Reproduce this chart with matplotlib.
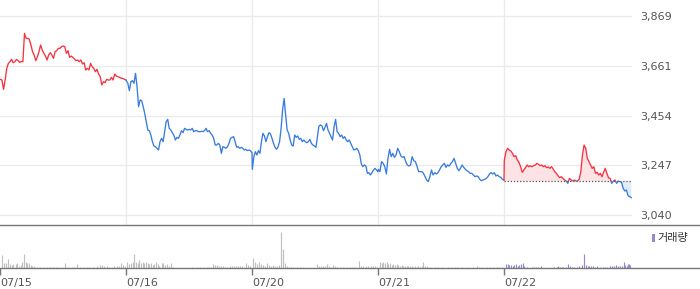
import numpy as np
import matplotlib
matplotlib.use("Agg")
import matplotlib.pyplot as plt
from matplotlib.patches import Rectangle
from matplotlib.lines import Line2D

# ---------------- data ----------------
dates = ["07/15", "07/16", "07/20", "07/21", "07/22"]
y_ticks = [3040, 3247, 3454, 3661, 3869]
prev_close = 3181

price_d1 = [3605.1, 3602.3, 3563.5, 3602.3, 3650.9, 3671.8, 3678.7, 3688.4, 3674.5, 3678.7,
            3688.4, 3682.9, 3675.9, 3678.7, 3678.7, 3796.8, 3775.9, 3775.9, 3771.8, 3748.2,
            3720.4, 3706.5, 3682.9, 3699.5, 3720.4, 3748.2, 3727.3, 3713.4, 3702.3, 3685.7,
            3706.5, 3716.2, 3706.5, 3692.6, 3720.4, 3724.5, 3734.3, 3734.3, 3741.2, 3744.0,
            3741.2, 3713.4, 3724.5, 3696.8, 3702.3, 3696.8, 3689.8, 3682.9, 3685.7, 3678.7,
            3685.7, 3669.0, 3674.5, 3644.0, 3650.9, 3644.0, 3671.8, 3657.9, 3650.9, 3637.0,
            3646.8, 3627.3, 3616.2, 3581.5, 3595.4, 3591.2, 3605.1, 3602.3, 3602.3, 3613.4,
            3602.3, 3627.3, 3619.0, 3616.2, 3613.4, 3609.3, 3609.3, 3605.1, 3602.3]
price_d2 = [3599.6, 3588.5, 3557.9, 3595.4, 3599.6, 3588.5, 3630.1, 3574.6, 3491.3, 3519.1,
            3516.3, 3491.3, 3463.5, 3428.8, 3394.1, 3391.3, 3373.2, 3345.5, 3327.4, 3324.6,
            3317.7, 3310.7, 3345.5, 3359.4, 3345.5, 3387.1, 3428.8, 3438.5, 3401.0, 3394.1,
            3383.0, 3373.2, 3352.4, 3363.5, 3359.4, 3373.2, 3391.3, 3383.0, 3401.0, 3396.9,
            3394.1, 3396.9, 3394.1, 3401.0, 3387.1, 3391.3, 3391.3, 3387.1, 3387.1, 3388.5,
            3387.1, 3391.3, 3401.0, 3387.1, 3391.3, 3380.2, 3373.2, 3359.4, 3331.6, 3331.6,
            3338.5, 3331.6, 3296.9, 3324.6, 3321.9, 3317.7, 3324.6, 3338.5, 3359.4, 3363.5,
            3366.3, 3345.5, 3321.9, 3324.6, 3317.7, 3321.9, 3317.7, 3310.7, 3313.5, 3308.0,
            3310.7, 3308.0, 3299.6]
price_d3 = [3230.2, 3283.0, 3303.8, 3289.9, 3308.0, 3296.9, 3345.4, 3380.2, 3369.1, 3345.4,
            3366.3, 3382.9, 3377.4, 3359.3, 3338.5, 3321.8, 3313.5, 3324.6, 3345.4, 3401.0,
            3477.4, 3526.0, 3456.6, 3394.1, 3380.2, 3352.4, 3331.6, 3327.4, 3373.2, 3363.5,
            3369.1, 3355.2, 3359.3, 3345.4, 3352.4, 3345.4, 3341.3, 3345.4, 3355.2, 3338.5,
            3331.6, 3327.4, 3321.8, 3366.3, 3410.7, 3414.9, 3410.7, 3391.3, 3405.2, 3421.8,
            3394.1, 3380.2, 3366.3, 3352.4, 3408.0, 3438.5, 3387.1, 3380.2, 3366.3, 3373.2,
            3359.3, 3366.3, 3352.4, 3345.4, 3352.4, 3338.5, 3324.6, 3310.7, 3313.5, 3317.7,
            3308.0, 3289.9, 3252.4, 3241.3, 3248.3, 3244.1, 3213.5, 3216.3, 3206.6, 3216.3,
            3227.4, 3234.4, 3227.4, 3220.5]
price_d4 = [3230.2, 3220.5, 3262.2, 3255.2, 3241.3, 3210.8, 3276.1, 3313.6, 3283.0, 3296.9,
            3280.2, 3290.0, 3317.7, 3303.8, 3285.8, 3280.2, 3283.0, 3262.2, 3248.3, 3244.1,
            3248.3, 3283.0, 3266.3, 3262.2, 3244.1, 3220.5, 3220.5, 3220.5, 3213.6, 3199.7,
            3185.8, 3178.9, 3199.7, 3227.5, 3206.6, 3216.3, 3210.8, 3216.3, 3227.5, 3241.3,
            3248.3, 3255.2, 3238.6, 3248.3, 3244.1, 3255.2, 3262.2, 3276.1, 3255.2, 3234.4,
            3224.7, 3234.4, 3248.3, 3238.6, 3230.2, 3224.7, 3220.5, 3213.6, 3213.6, 3206.6,
            3199.7, 3202.5, 3199.7, 3188.6, 3183.0, 3185.8, 3188.6, 3192.7, 3199.7, 3210.8,
            3216.3, 3210.8, 3216.3, 3202.5, 3206.6, 3199.7, 3196.9, 3188.6, 3185.8]
price_d5 = [3269.0, 3303.8, 3317.7, 3310.7, 3306.5, 3296.8, 3282.9, 3287.1, 3269.0, 3259.3,
            3241.3, 3217.7, 3227.4, 3237.1, 3248.2, 3241.3, 3245.4, 3241.3, 3245.4, 3248.2,
            3255.2, 3251.0, 3245.4, 3248.2, 3241.3, 3245.4, 3237.1, 3239.9, 3234.3, 3241.3,
            3231.6, 3220.4, 3213.5, 3203.8, 3195.4, 3199.6, 3192.7, 3185.7, 3181.6, 3171.8,
            3192.7, 3185.7, 3181.6, 3185.7, 3181.6, 3181.6, 3189.9, 3220.4, 3289.9, 3331.5,
            3317.7, 3276.0, 3262.1, 3248.2, 3234.3, 3241.3, 3213.5, 3217.7, 3206.6, 3213.5,
            3199.6, 3217.7, 3234.3, 3213.5, 3195.4, 3192.7, 3171.8, 3181.6, 3185.7, 3171.8,
            3181.6, 3178.8, 3176.0, 3151.0, 3139.9, 3144.1, 3120.5, 3116.3, 3112.1]
prices = [price_d1, price_d2, price_d3, price_d4, price_d5]

# volume: minute of session (0-390) and volume per bar, per day
vol_minutes = [
    [7, 12, 18, 25, 31, 36, 41, 49, 54, 59, 64, 69, 74, 79, 85, 90, 95, 100, 105, 114, 124, 134,
     144, 155, 165, 173, 181, 191, 202, 212, 222, 229, 237, 248, 258, 268, 277, 287, 299, 308,
     315, 322, 330, 338, 346, 353, 361, 367, 374, 380, 386],
    [4, 10, 15, 21, 26, 31, 36, 41, 46, 52, 57, 62, 67, 72, 77, 83, 88, 93, 98, 103, 110, 116,
     121, 126, 132, 140, 146, 162, 188, 203, 219, 229, 239, 250, 258, 264, 270, 276, 283, 289,
     295, 301, 307, 314, 322, 328, 334, 340, 347, 353, 359, 365, 371, 378, 384],
    [4, 10, 16, 23, 29, 35, 41, 47, 54, 60, 66, 72, 78, 85, 91, 97, 103, 109, 115, 122, 128,
     138, 149, 159, 169, 200, 206, 213, 219, 225, 231, 237, 243, 252, 258, 264, 272, 283, 293,
     303, 308, 319, 331, 337, 344, 352, 360, 367, 375, 382, 388],
    [6, 11, 17, 22, 27, 32, 37, 42, 47, 53, 58, 63, 68, 73, 78, 84, 89, 94, 99, 104, 109, 115,
     120, 125, 130, 135, 140, 146, 153, 161, 176, 187, 197, 218, 228, 238, 243, 259, 280, 295,
     305, 314, 321, 336, 347, 357, 367, 376, 383],
    [6, 11, 16, 22, 27, 32, 37, 42, 47, 53, 58, 63, 70, 86, 93, 99, 106, 113, 155, 163, 168,
     173, 178, 184, 191, 199, 204, 209, 217, 225, 233, 240, 249, 254, 259, 264, 270, 276, 283,
     289, 297, 305, 313, 320, 328, 334, 340, 347, 353, 359, 365, 370, 376, 381, 385, 388, 390],
]
vol_values = [
    [40, 15, 15, 28, 12, 10, 12, 12, 15, 8, 10, 20, 43, 18, 15, 15, 10, 8, 6, 4, 4, 4, 3, 4, 3,
     5, 3, 4, 15, 4, 5, 4, 12, 4, 5, 5, 5, 4, 8, 10, 10, 8, 6, 5, 5, 6, 8, 6, 15, 10, 8],
    [18, 12, 15, 20, 43, 20, 15, 25, 15, 18, 15, 18, 15, 12, 15, 10, 12, 20, 12, 8, 15, 15, 10,
     12, 6, 15, 3, 2, 2, 3, 3, 3, 3, 4, 4, 4, 14, 10, 10, 8, 6, 6, 5, 5, 6, 8, 6, 7, 6, 8, 6, 5,
     15, 10, 6],
    [30, 18, 12, 18, 12, 10, 8, 15, 10, 8, 10, 8, 6, 10, 108, 58, 15, 8, 5, 4, 4, 4, 3, 3, 2,
     12, 8, 6, 8, 6, 12, 6, 5, 10, 6, 5, 5, 4, 3, 4, 3, 3, 22, 8, 6, 6, 6, 8, 6, 8, 5],
    [18, 15, 20, 15, 18, 12, 15, 10, 12, 10, 12, 10, 8, 10, 8, 8, 6, 8, 6, 8, 5, 6, 5, 6, 5, 6,
     18, 6, 8, 3, 3, 3, 3, 4, 4, 5, 3, 3, 3, 3, 6, 4, 3, 3, 4, 4, 4, 5, 5],
    [12, 12, 10, 10, 8, 10, 12, 8, 10, 12, 15, 6, 3, 3, 4, 4, 4, 8, 3, 4, 6, 4, 4, 3, 3, 12, 6,
     4, 4, 4, 6, 10, 43, 10, 8, 6, 8, 6, 5, 6, 4, 4, 5, 4, 6, 6, 8, 10, 6, 8, 6, 18, 10, 8, 12,
     12, 10],
]

# ---------------- style ----------------
RED = "#f5333f"
BLUE = "#3a7bde"
RED_FILL = "#fde3e5"
BLUE_FILL = "#e1ebf9"
GRID = "#ebebeb"
AXLINE = "#777777"
GRAY_BAR = "#c0c0c0"
PURPLE = "#9a86cf"
LABEL = "#555555"
FONT = "DejaVu Sans"
SESSION = 390

W, H = 700, 289
fig = plt.figure(figsize=(W / 100, H / 100), dpi=100)

plot_w = 632
x_max = 5 * SESSION * plot_w / 630.0

# main axes (pixel 0..225 from top)
ax = fig.add_axes([0, (H - 225) / H, plot_w / W, 225 / H])
ppx = 829 / 199.0
ax.set_ylim(3040 - 10 * ppx, 3869 + 16 * ppx)
ax.set_xlim(0, x_max)
for s in ax.spines.values():
    s.set_visible(False)
ax.set_yticks(y_ticks)
ax.set_yticklabels([f"{v:,}" for v in y_ticks], family=FONT)
ax.yaxis.tick_right()
ax.tick_params(axis="y", length=0, pad=6, labelsize=8, labelcolor=LABEL)
ax.set_xticks([d * SESSION for d in range(1, 5)])
ax.tick_params(axis="x", length=0, labelbottom=False)
ax.grid(True, color=GRID, lw=1)
ax.set_axisbelow(True)

xs = [np.linspace(d * SESSION + 1, (d + 1) * SESSION + (4 if d == 4 else 0), len(p))
      for d, p in enumerate(prices)]

# day 1 red
ax.plot(xs[0], prices[0], color=RED, lw=0.95, zorder=3)
# days 2-4 blue (joined to the end of day 1)
xb = np.concatenate([[xs[0][-1]], xs[1], xs[2], xs[3]])
yb = np.concatenate([[prices[0][-1]], prices[1], prices[2], prices[3]])
ax.plot(xb, yb, color=BLUE, lw=0.95, zorder=3)

# day 5: colour relative to previous close, with fills
x5 = np.concatenate([[xs[3][-1]], xs[4]])
y5 = np.concatenate([[prices[3][-1]], prices[4]])
ax.fill_between(xs[4], prices[4], prev_close, where=np.array(prices[4]) >= prev_close,
                interpolate=True, color=RED_FILL, lw=0, zorder=2)
ax.fill_between(xs[4], prices[4], prev_close, where=np.array(prices[4]) <= prev_close,
                interpolate=True, color=BLUE_FILL, lw=0, zorder=2)
ax.hlines(prev_close, 4 * SESSION, x_max, colors="#555555", linestyles=(0, (1, 1.5)),
          lw=0.9, zorder=2.5)
l_up, = ax.plot(x5, y5, color=RED, lw=0.95, zorder=3)
l_dn, = ax.plot(x5, y5, color=BLUE, lw=0.95, zorder=3)
clip_up = Rectangle((0, prev_close), x_max * 2, 5000, transform=ax.transData)
clip_dn = Rectangle((0, prev_close - 5000), x_max * 2, 5000, transform=ax.transData)
l_up.set_clip_path(clip_up)
l_dn.set_clip_path(clip_dn)

# volume axes
vb = 268.3
vt = 226
axv = fig.add_axes([0, (H - vb) / H, plot_w / W, (vb - vt) / H])
axv.set_xlim(0, x_max)
axv.set_ylim(0, 108 * (vb - vt) / 36.0)
for s in axv.spines.values():
    s.set_visible(False)
axv.set_yticks([])
for d in range(5):
    xv = [d * SESSION + m for m in vol_minutes[d]]
    axv.vlines(xv, 0, vol_values[d], colors=PURPLE if d == 4 else GRAY_BAR, lw=0.85)
axv.set_xticks([d * SESSION for d in range(5)])
axv.set_xticklabels(dates, family=FONT)
axv.tick_params(axis="x", length=5, width=1, color=AXLINE, pad=2, labelsize=8,
                labelcolor=LABEL)
for lbl in axv.get_xticklabels():
    lbl.set_horizontalalignment("left")

# full-width separator lines
for py in (225.3, vb):
    fig.add_artist(Line2D([0, 1], [(H - py) / H] * 2, transform=fig.transFigure,
                          color=AXLINE, lw=1))

# volume legend
fig.add_artist(Rectangle((652 / W, (H - 242) / H), 2.5 / W, 8 / H,
                         transform=fig.transFigure, color=PURPLE, lw=0))
fig.text(657 / W, (H - 238) / H, "거래량", fontsize=8, color="#333333",
         va="center", ha="left", family=["Noto Sans CJK KR", "DejaVu Sans"])

fig.savefig("out.png", dpi=100)
